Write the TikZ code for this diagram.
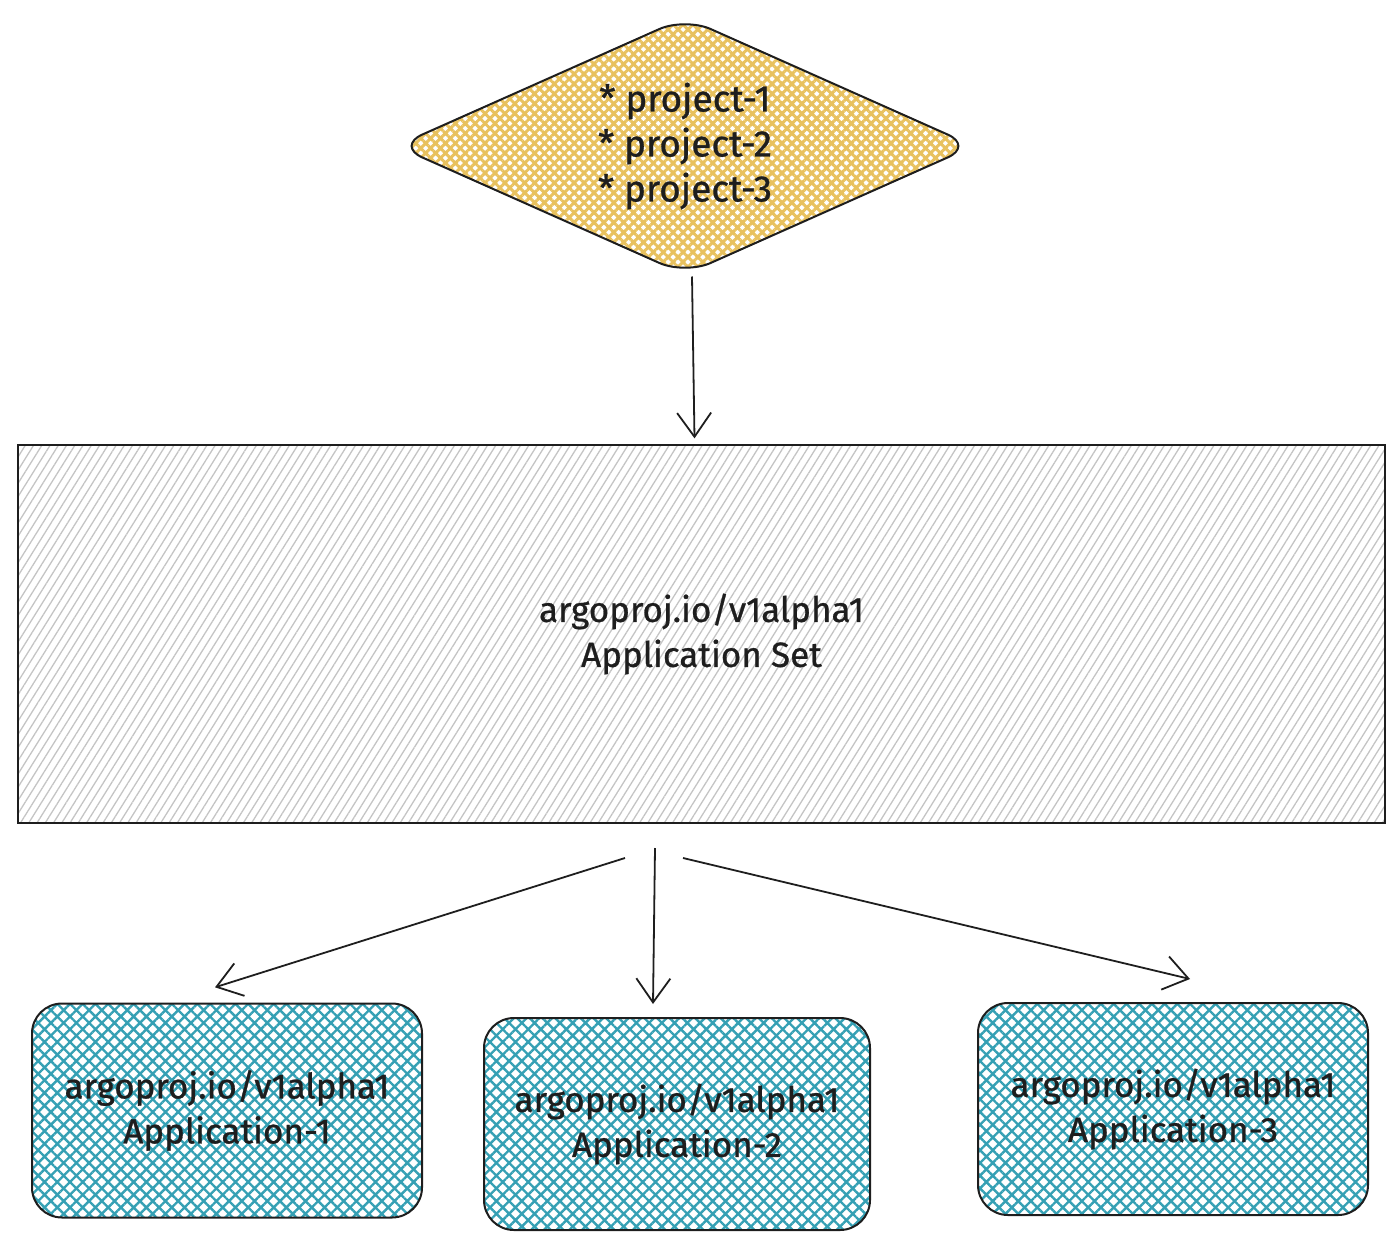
\documentclass[tikz,border=0pt]{standalone}
\usepackage{fontspec}
\setmainfont{Fira Sans}[FakeBold=0.8]
\usetikzlibrary{arrows.meta,patterns.meta,shapes.geometric}
\definecolor{ink}{HTML}{1E1E1E}
\definecolor{yel}{HTML}{E8C15E}
\definecolor{teal}{HTML}{35A0B4}
\definecolor{hatchgray}{HTML}{C4C4C4}
\tikzset{
  outline/.style={draw=ink, line width=2pt},
  txt/.style={text=ink, font=\fontsize{35}{45}\selectfont, align=center},
  appbox/.style={outline, txt, rounded corners=30pt, minimum width=390pt, minimum height=214pt, inner sep=0pt,
    pattern={Hatch[angle=45, distance=9pt, line width=2.4pt]}, pattern color=teal},
  conn/.style={draw=ink, line width=1.8pt, -{Straight Barb[length=24pt, width=34pt, line width=1.8pt]}}
}
\begin{document}
\begin{tikzpicture}[x=1pt, y=-1pt]
\useasboundingbox (0,0) rectangle (1400,1252);
% diamond
\node[outline, txt, font=\fontsize{37}{45}\selectfont, shape=diamond, rounded corners=28pt,
  minimum width=578pt, minimum height=258pt, aspect=2.24, inner sep=0pt,
  pattern={Hatch[angle=45, distance=7pt, line width=3pt]}, pattern color=yel]
  (dia) at (685,146) {* project-1\\* project-2\\* project-3};
% big box
\node[outline, txt, minimum width=1367pt, minimum height=378pt, inner sep=0pt,
  pattern={Lines[angle=58, distance=7pt, line width=1.3pt]}, pattern color=hatchgray]
  (big) at (701.5,634) {argoproj.io/v1alpha1\\Application Set};
% application boxes
\node[appbox] (app1) at (227,1110.5) {argoproj.io/v1alpha1\\Application-1};
\node[appbox, minimum width=386pt, minimum height=212pt] (app2) at (677,1124) {argoproj.io/v1alpha1\\Application-2};
\node[appbox, minimum height=212pt] (app3) at (1173,1109) {argoproj.io/v1alpha1\\Application-3};
% connectors
\draw[conn] ([xshift=7pt]dia.south) -- ([xshift=-7pt,yshift=6pt]big.north);
\coordinate (s1) at (625,858);
\coordinate (s2) at (655,848);
\coordinate (s3) at (683,858);
\draw[conn] (s1) -- ([xshift=-12pt,yshift=15pt]app1.north);
\draw[conn] (s2) -- ([xshift=-24pt,yshift=13pt]app2.north);
\draw[conn] (s3) -- ([xshift=17pt,yshift=23pt]app3.north);
\end{tikzpicture}
\end{document}
